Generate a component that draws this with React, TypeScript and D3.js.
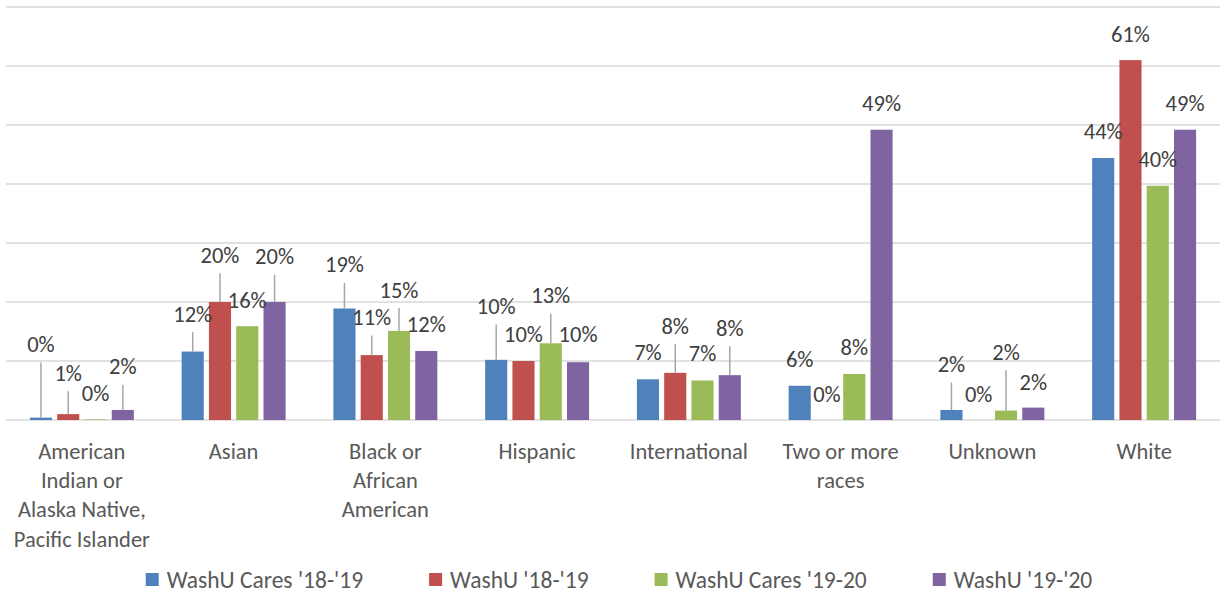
import React, { useEffect, useRef } from 'react';
import * as d3 from 'd3';

const categories = [
  'American Indian or Alaska Native, Pacific Islander',
  'Asian',
  'Black or African American',
  'Hispanic',
  'International',
  'Two or more races',
  'Unknown',
  'White',
];

// wrapped lines for the axis labels
const categoryLines = [
  ['American', 'Indian or', 'Alaska Native,', 'Pacific Islander'],
  ['Asian'],
  ['Black or', 'African', 'American'],
  ['Hispanic'],
  ['International'],
  ['Two or more', 'races'],
  ['Unknown'],
  ['White'],
];

const seriesNames = ["WashU Cares '18-'19", "WashU '18-'19", "WashU Cares '19-20", "WashU '19-'20"];

const washuCares1819 = [0.4, 11.6, 18.9, 10.2, 6.9, 5.8, 1.7, 44.4];
const washu1819 = [1.0, 20.0, 11.0, 10.0, 8.0, 0, 0, 61.0];
const washuCares1920 = [0.1, 15.9, 15.1, 13.0, 6.7, 7.8, 1.6, 39.7];
const washu1920 = [1.7, 20.0, 11.7, 9.8, 7.6, 49.2, 2.1, 49.2];

const yTicks = [0, 10, 20, 30, 40, 50, 60, 70];

const colors = ['#4F81BD', '#C0504D', '#9BBB59', '#8064A2'];

// how far each data label sits above its bar (px), as placed in the original
const labelLift = [
  [65.6, 30, 36, 45.7, 19, 18.7, 38, 18.7],
  [33.3, 39.3, 30, 19.3, 39, 18.3, 18.3, 18.3],
  [18.3, 17.7, 33.3, 40, 19, 19, 50.7, 18.3],
  [35.7, 37.7, 19.3, 20.3, 39.3, 18.3, 18, 18.7],
];

const FONT = 'Carlito, Calibri, Lato, sans-serif';
const FS = 22.5;

const App = () => {
  const ref = useRef<SVGSVGElement>(null);

  useEffect(() => {
    document.body.style.margin = '0';
    const svg = d3.select(ref.current);
    svg.selectAll('*').remove();

    const width = 1222;
    const height = 597;
    const plot = { left: 6, right: 1220, top: 7, bottom: 420 };
    const seriesValues = [washuCares1819, washu1819, washuCares1920, washu1920];

    const x0 = d3.scaleBand<string>()
      .domain(categories)
      .range([plot.left, plot.right])
      .paddingInner(0.315)
      .paddingOuter(0.1575);

    const x1 = d3.scaleBand<string>()
      .domain(seriesNames)
      .range([0, x0.bandwidth()])
      .paddingInner(0.19);

    const y = d3.scaleLinear().domain([0, 70]).range([plot.bottom, plot.top]);

    svg.attr('width', width).attr('height', height);

    // gridlines
    svg.append('g')
      .selectAll('line')
      .data(yTicks)
      .enter()
      .append('line')
      .attr('x1', plot.left)
      .attr('x2', plot.right)
      .attr('y1', d => y(d))
      .attr('y2', d => y(d))
      .attr('stroke', '#d9d9d9')
      .attr('stroke-width', 1.5);

    // bars
    seriesValues.forEach((vals, si) => {
      svg.append('g')
        .selectAll('rect')
        .data(vals)
        .enter()
        .append('rect')
        .attr('x', (_, i) => (x0(categories[i]) as number) + (x1(seriesNames[si]) as number))
        .attr('width', x1.bandwidth())
        .attr('y', d => y(d))
        .attr('height', d => y(0) - y(d))
        .attr('fill', colors[si]);
    });

    // data labels with leader lines
    seriesValues.forEach((vals, si) => {
      const g = svg.append('g');
      vals.forEach((v, i) => {
        const cx = (x0(categories[i]) as number) + (x1(seriesNames[si]) as number) + x1.bandwidth() / 2;
        const top = y(v);
        const base = top - labelLift[si][i];
        if (top - (base + 10.5) > 12) {
          g.append('line')
            .attr('x1', cx)
            .attr('x2', cx)
            .attr('y1', base + 10.5)
            .attr('y2', top)
            .attr('stroke', '#a6a6a6')
            .attr('stroke-width', 1.5);
        }
        g.append('text')
          .attr('x', cx)
          .attr('y', base)
          .attr('text-anchor', 'middle')
          .attr('font-family', FONT)
          .attr('font-size', FS)
          .attr('fill', '#404040')
          .text(`${Math.round(v)}%`);
      });
    });

    // category labels
    categoryLines.forEach((lines, i) => {
      const cx = (x0(categories[i]) as number) + x0.bandwidth() / 2;
      const t = svg.append('text')
        .attr('text-anchor', 'middle')
        .attr('font-family', FONT)
        .attr('font-size', FS)
        .attr('fill', '#595959');
      lines.forEach((line, li) => {
        t.append('tspan')
          .attr('x', cx)
          .attr('y', 458.5 + li * 29.4)
          .text(line);
      });
    });

    // legend, centred
    const legend = svg.append('g');
    const items = seriesNames.map((name, si) => {
      const item = legend.append('g');
      item.append('rect')
        .attr('width', 13)
        .attr('height', 13)
        .attr('y', -7)
        .attr('fill', colors[si]);
      const txt = item.append('text')
        .attr('x', 21)
        .attr('y', 0)
        .attr('dy', '0.35em')
        .attr('font-family', FONT)
        .attr('font-size', 23.5)
        .attr('fill', '#595959')
        .text(name);
      const w = 21 + (txt.node() as SVGTextElement).getComputedTextLength();
      return { item, w };
    });
    const gap = 66;
    const total = d3.sum(items, d => d.w) + gap * (items.length - 1);
    let cursor = 619 - total / 2;
    items.forEach(({ item, w }) => {
      item.attr('transform', `translate(${cursor},580)`);
      cursor += w + gap;
    });
  }, []);

  return <svg ref={ref} style={{ display: 'block' }} />;
};

export default App;
